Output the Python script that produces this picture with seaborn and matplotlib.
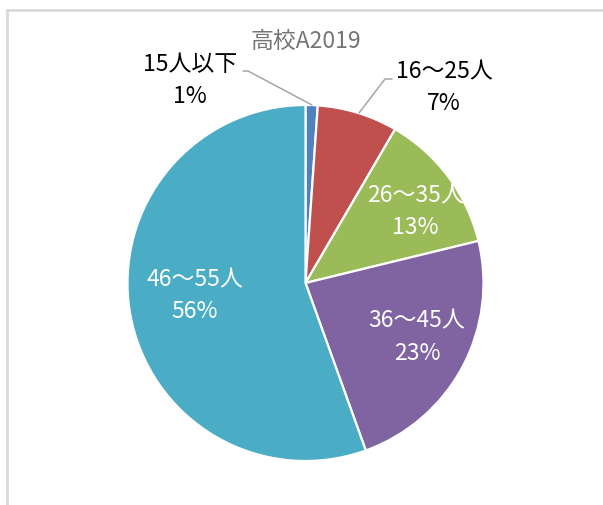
import matplotlib
matplotlib.use("Agg")
import matplotlib.pyplot as plt
import seaborn as sns

# data

categories = ['15人以下', '16～25人', '26～35人', '36～45人', '46～55人']
shares = [1.1, 7.3, 12.8, 23.3, 55.5]
pct_labels = ['1%', '7%', '13%', '23%', '56%']
colors = ['#4F81BD', '#C0504D', '#9BBB59', '#8064A2', '#4BACC6']
title = '高校A2019'

sns.set_theme(style='white')
plt.rcParams['font.family'] = ['Noto Sans CJK JP', 'DejaVu Sans']

W, H = 603, 505
CX, CY, R = 305.5, 283.0, 178.0


def px(x, y):
    # pixel position (from top-left) -> data coords of the pie (radius 1)
    return (x - CX) / R, (CY - y) / R


fig = plt.figure(figsize=(W / 100, H / 100), dpi=100)
ax = fig.add_axes([0, 0, 1, 1])

ax.pie(shares, colors=colors, startangle=90, counterclock=False, radius=1,
       wedgeprops=dict(edgecolor='white', linewidth=1.6))

ax.set_aspect('auto')
ax.set_xlim(px(0, 0)[0], px(W, 0)[0])
ax.set_ylim(px(0, H)[1], px(0, 0)[1])
ax.axis('off')

# label layout (pixel centres) and text colours
label_pos = [(190, 81), (444, 88), (415, 212), (417, 337), (195, 296)]
label_col = ['black', 'black', 'white', 'white', 'white']
for cat, pct, (lx, ly), c in zip(categories, pct_labels, label_pos, label_col):
    x, y = px(lx, ly)
    ax.text(x, y, f'{cat}\n{pct}', ha='center', va='center', fontsize=16.5,
            color=c, linespacing=1.5)

# leader lines for the small slices
leaders = [[(243, 71), (248, 71), (312, 105)],
           [(392, 79), (385, 79), (359, 113)]]
for pts in leaders:
    xs, ys = zip(*[px(a, b) for a, b in pts])
    ax.plot(xs, ys, color='#A6A6A6', lw=1.1)

tx, ty = px(306, 41)
ax.text(tx, ty, title, ha='center', va='center', fontsize=16.5, color='#757575')

# chart frame (cropped: only top and left edges visible)
fig.add_artist(plt.Line2D([7 / W, 7 / W], [0, 1 - 10 / H], color='#D9D9D9', lw=2))
fig.add_artist(plt.Line2D([7 / W, 1], [1 - 10 / H, 1 - 10 / H], color='#D9D9D9', lw=2))

fig.savefig('out.png', dpi=100, facecolor='white')
